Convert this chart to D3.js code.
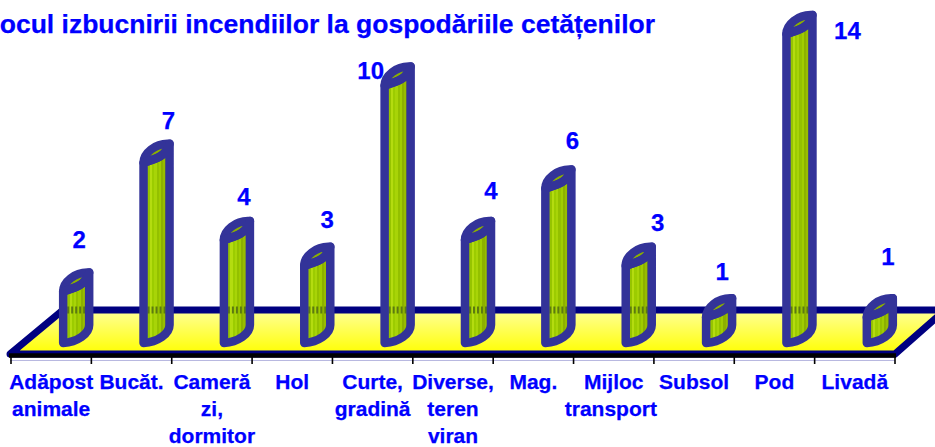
<!DOCTYPE html>
<html><head><meta charset="utf-8">
<script src="https://cdn.jsdelivr.net/npm/d3@7"></script>
<style>html,body{margin:0;padding:0;background:#fff;overflow:hidden}svg{display:block}text{font-family:"Liberation Sans",Arial,sans-serif;font-weight:bold;fill:#0000ff;stroke:#0000ff;stroke-width:.25;white-space:pre}</style>
</head><body><svg id="c" width="935" height="447"></svg>
<script>
const titleText = "Locul izbucnirii incendiilor la gospodăriile cetățenilor";
const categories = ["Adăpost","Bucăt.","Cameră","Hol","Curte,","Diverse,","Mag.","Mijloc","Subsol","Pod","Livadă"];
const categoryLines = [["Adăpost","animale"],["Bucăt."],["Cameră","zi,","dormitor"],["Hol"],["Curte,","gradină"],["Diverse,","teren","viran"],["Mag."],["Mijloc","transport "],["Subsol"],["Pod"],["Livadă"]];
const values = [2,7,4,3,10,4,6,3,1,14,1];
const labelDx = [3,12,7,10,-27,13,14,19,3,48,8];
const labelDy = [-43.5,-33.8,-35,-37.8,-6.5,-41,-39.5,-35,-37.3,5,-52.3];
const axisMax = 12;

const svg = d3.select("#c");
const x = d3.scaleBand().domain(categories).range([11,895]);
const y = d3.scaleLinear().domain([0,axisMax]).range([343,34]).clamp(true);
const depthX = 25, halfW = 13, skew = 19, floorBackY = 310, floorDepthX = 50, barStroke = 8.5;

const defs = svg.append("defs");
const floorGrad = defs.append("linearGradient").attr("id","floor").attr("x1",0).attr("y1",0).attr("x2",0).attr("y2",1);
floorGrad.append("stop").attr("offset",0).attr("stop-color","#ffff99");
floorGrad.append("stop").attr("offset",1).attr("stop-color","#ffff00");
const stripeColors = ["#8db800","#a4d000","#96c400","#b4dc10","#9ccc00","#a8d408","#94c000","#a0cc00","#8cb000","#98bc00","#84a400","#8cac00"];
const stripeGrad = defs.append("linearGradient").attr("id","stripes").attr("x1",0).attr("y1",0).attr("x2",1).attr("y2",0);
stripeColors.forEach((col,i)=>{
  stripeGrad.append("stop").attr("offset",i/stripeColors.length).attr("stop-color",col);
  stripeGrad.append("stop").attr("offset",(i+1)/stripeColors.length).attr("stop-color",col);
});

// floor
const fl = x.range()[0]-1, fr = x.range()[1], fy = 354;
svg.append("path")
  .attr("d",`M${fl},${fy}L${fl+53},${floorBackY}L${fr+floorDepthX},${floorBackY}L${fr},${fy}Z`)
  .attr("fill","url(#floor)").attr("stroke","#000080").attr("stroke-width",7).attr("stroke-linejoin","round");

// axis
svg.append("line").attr("x1",fl-1).attr("x2",fr+1).attr("y1",355.5).attr("y2",355.5).attr("stroke","#000").attr("stroke-width",4.5);
svg.append("line").attr("x1",fl).attr("x2",fr).attr("y1",360.5).attr("y2",360.5).attr("stroke","#b8b8e0").attr("stroke-width",1);
const edges = categories.map(c=>x(c)).concat([x.range()[1]]);
svg.selectAll("line.tick").data(edges).join("line").attr("class","tick")
  .attr("x1",d=>d).attr("x2",d=>d).attr("y1",356).attr("y2",364).attr("stroke","#000").attr("stroke-width",1.6);

// bars
function lowerArc(L,R,yt){ return `C${L+10},${yt-3} ${R-3},${yt-6} ${R},${yt-skew}`; }
function bodyPath(cx,yt,yb){
  const L=cx-halfW,R=cx+halfW;
  return `M${L},${yt}${lowerArc(L,R,yt)}L${R},${yb-skew+1}C${R},${yb-9} ${L+14},${yb-1} ${L},${yb}Z`;
}
function topPath(cx,yt){
  const L=cx-halfW,R=cx+halfW;
  return `M${L},${yt}C${L},${yt-10} ${L+12},${yt-skew} ${R-2},${yt-skew}L${R},${yt-skew}C${R-3},${yt-6} ${L+10},${yt-3} ${L},${yt}Z`;
}
const bars = svg.selectAll("g.bar").data(values).join("g").attr("class","bar");
bars.each(function(v,i){
  const g=d3.select(this), cx=x(categories[i])+x.bandwidth()/2+depthX, yt=y(v), yb=y(0);
  const id="clip"+i;
  defs.append("clipPath").attr("id",id).append("path").attr("d",bodyPath(cx,yt,yb));
  g.append("path").attr("d",bodyPath(cx,yt,yb)).attr("fill","url(#stripes)");
  g.append("line").attr("x1",cx-halfW).attr("x2",cx+halfW).attr("y1",floorBackY).attr("y2",floorBackY)
    .attr("clip-path",`url(#${id})`).attr("stroke","#5c7a10").attr("stroke-width",7).attr("stroke-dasharray","2 2");
  g.append("path").attr("d",topPath(cx,yt)).attr("fill","#8cb000").attr("stroke","#333399").attr("stroke-width",barStroke).attr("stroke-linejoin","round");
  g.append("path").attr("d",bodyPath(cx,yt,yb)).attr("fill","none").attr("stroke","#333399").attr("stroke-width",barStroke).attr("stroke-linejoin","round");
});

// value labels
svg.selectAll("text.val").data(values).join("text").attr("class","val")
  .attr("x",(d,i)=>x(categories[i])+x.bandwidth()/2+depthX+labelDx[i])
  .attr("y",(d,i)=>y(d)+labelDy[i])
  .attr("text-anchor","middle").attr("font-size",24).text(d=>d);

// category labels
const cat = svg.selectAll("text.cat").data(categoryLines).join("text").attr("class","cat")
  .attr("text-anchor","middle").attr("font-size",21);
cat.each(function(lines,i){
  d3.select(this).selectAll("tspan").data(lines).join("tspan")
    .attr("x",x(categories[i])+x.bandwidth()/2).attr("y",(d,k)=>388.5+k*27).text(d=>d);
});

svg.append("text").attr("x",655).attr("y",33).attr("text-anchor","end").attr("font-size",26.5).text(titleText);
</script></body></html>
